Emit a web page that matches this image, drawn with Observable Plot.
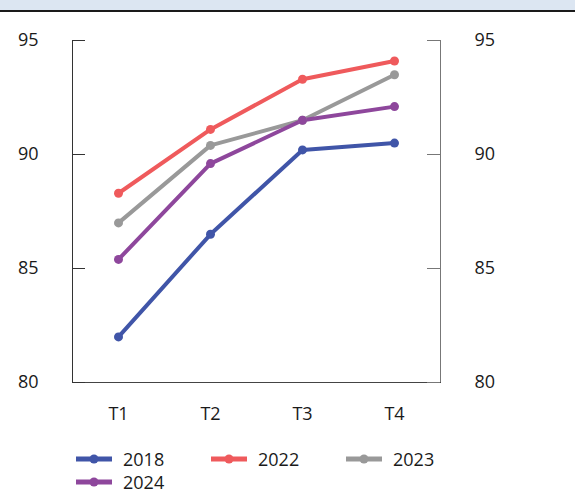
<!DOCTYPE html>
<html>
<head>
<meta charset="utf-8">
<script src="https://cdn.jsdelivr.net/npm/d3@7"></script>
<script src="https://cdn.jsdelivr.net/npm/@observablehq/plot@0.6"></script>
<style>
  body { margin: 0; background: #fff; font-family: "Open Sans", "Noto Sans", sans-serif; }
  #band { height: 10px; background: #dce6f2; border-bottom: 2px solid #1a1a1a; }
  #chart svg { display: block; }
  #legend { display: grid; grid-template-columns: 135px 135px 135px; margin-left: 76px; padding-top: 15px; }
  .item { display: flex; align-items: center; height: 23px; font-size: 18px; color: #1a1a1a; }
  .item svg { margin-right: 11px; flex: none; }
</style>
</head>
<body>
<div id="band"></div>
<div id="chart"></div>
<div id="legend"></div>
<script>
const quarters = ["T1", "T2", "T3", "T4"];
const years = ["2018", "2022", "2023", "2024"];
const v2018 = [82.0, 86.5, 90.2, 90.5];
const v2022 = [88.3, 91.1, 93.3, 94.1];
const v2023 = [87.0, 90.4, 91.5, 93.5];
const v2024 = [85.4, 89.6, 91.5, 92.1];
const colors = ["#4055a8", "#ef5a5c", "#999999", "#8e479c"];
const yTicks = [80, 85, 90, 95];

const seriesValues = [v2018, v2022, v2023, v2024];
const data = years.flatMap((y, i) => quarters.map((q, j) => ({year: y, q, v: seriesValues[i][j]})));

const plot = Plot.plot({
  width: 575,
  height: 420,
  marginLeft: 72,
  marginRight: 135,
  marginTop: 28,
  marginBottom: 50,
  style: {fontFamily: "'Open Sans', 'Noto Sans', sans-serif", fontSize: "18px", color: "#1a1a1a"},
  x: {type: "point", domain: quarters, padding: 0.5},
  y: {domain: [80, 95]},
  color: {domain: years, range: colors},
  marks: [
    Plot.frame({anchor: "left", stroke: "#333"}),
    Plot.frame({anchor: "right", stroke: "#777"}),
    Plot.frame({anchor: "bottom", stroke: "#444"}),
    Plot.ruleY(yTicks, {y: d => d, insetRight: 355, stroke: "#333"}),
    Plot.ruleY(yTicks, {y: d => d, insetLeft: 355, stroke: "#777"}),
    Plot.axisY(yTicks, {anchor: "left", tickSize: 0, tickPadding: 34, fontSize: 18, label: null}),
    Plot.axisY(yTicks, {anchor: "right", tickSize: 0, tickPadding: 34, fontSize: 18, label: null}),
    Plot.axisX(quarters, {anchor: "bottom", tickSize: 0, tickPadding: 25, fontSize: 18, label: null}),
    Plot.line(data, {x: "q", y: "v", stroke: "year", strokeWidth: 4, z: "year"}),
    Plot.dot(data, {x: "q", y: "v", fill: "year", r: 4.5})
  ]
});
document.getElementById("chart").appendChild(plot);

const legend = d3.select("#legend");
years.forEach((y, i) => {
  const item = legend.append("div").attr("class", "item");
  const s = item.append("svg").attr("width", 36).attr("height", 12);
  s.append("line").attr("x1", 0).attr("x2", 36).attr("y1", 6).attr("y2", 6)
    .attr("stroke", colors[i]).attr("stroke-width", 5);
  s.append("circle").attr("cx", 18).attr("cy", 6).attr("r", 4.5).attr("fill", colors[i]);
  item.append("span").text(y);
});
</script>
</body>
</html>
